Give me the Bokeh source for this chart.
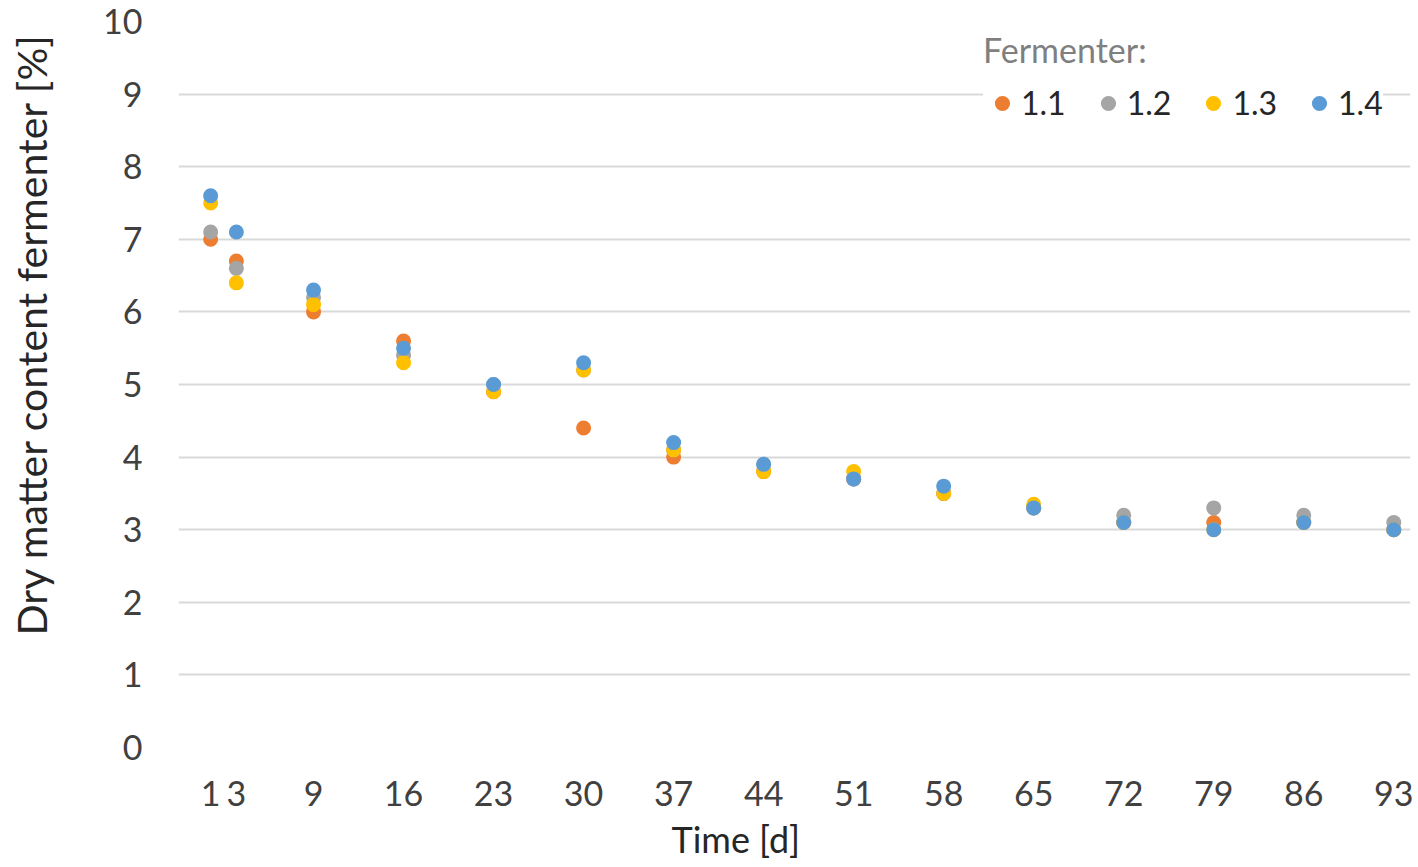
from bokeh.plotting import figure
from bokeh.models import Range1d, FixedTicker, Title
from bokeh.embed import file_html
from bokeh.resources import INLINE

days = [1, 3, 9, 16, 23, 30, 37, 44, 51, 58, 65, 72, 79, 86, 93]
f11 = [7.0, 6.7, 6.0, 5.6, 4.9, 4.4, 4.0, 3.8, 3.7, 3.5, 3.3, 3.1, 3.1, 3.1, 3.0]
f12 = [7.1, 6.6, 6.2, 5.4, 5.0, 5.2, 4.1, 3.9, 3.7, 3.5, 3.3, 3.2, 3.3, 3.2, 3.1]
f13 = [7.5, 6.4, 6.1, 5.3, 4.9, 5.2, 4.1, 3.8, 3.8, 3.5, 3.35, 3.1, 3.0, 3.1, 3.0]
f14 = [7.6, 7.1, 6.3, 5.5, 5.0, 5.3, 4.2, 3.9, 3.7, 3.6, 3.3, 3.1, 3.0, 3.1, 3.0]
series = [("1.1", f11, "#ED7D31"), ("1.2", f12, "#A5A5A5"),
          ("1.3", f13, "#FFC000"), ("1.4", f14, "#5B9BD5")]
y_ticks = list(range(0, 11))
x_title = "Time [d]"
y_title = "Dry matter content fermenter [%]"

FONT = "Lato"

p = figure(frame_width=1232, frame_height=726, output_backend="svg",
           toolbar_location=None, min_border_left=178, min_border_right=4,
           min_border_top=21, min_border_bottom=112,
           x_range=Range1d(-1.5, 94.3), y_range=Range1d(0, 10))
p.outline_line_color = None

for name, vals, col in series:
    p.scatter(days, vals, size=15, color=col, line_color=None, legend_label=name)

for ax in (p.xaxis[0], p.yaxis[0]):
    ax.axis_line_color = None
    ax.major_tick_line_color = None
    ax.minor_tick_line_color = None
    ax.major_label_text_font = FONT
    ax.major_label_text_font_size = "34px"
    ax.major_label_text_color = "#404040"

p.xaxis.ticker = FixedTicker(ticks=days)
p.yaxis.ticker = FixedTicker(ticks=y_ticks)
p.xaxis.major_label_standoff = 27
p.yaxis.major_label_standoff = 30

p.add_layout(Title(text=x_title, align="left", offset=493, standoff=12,
                   text_font=FONT, text_font_size="36px",
                   text_font_style="normal", text_color="#262626"), "below")
# spacer between the y tick labels and the y axis title
p.add_layout(Title(text=" ", standoff=27, text_font=FONT, text_font_size="10px"), "left")
p.add_layout(Title(text=y_title, align="left", offset=112, standoff=8,
                   text_font=FONT, text_font_size="41px",
                   text_font_style="normal", text_color="#262626"), "left")

p.xgrid.grid_line_color = None
p.ygrid.grid_line_color = "#d9d9d9"
p.ygrid.grid_line_width = 2

lg = p.legend[0]
lg.title = "Fermenter:"
lg.orientation = "horizontal"
lg.location = (805, 625)
lg.title_text_font = FONT
lg.title_text_font_style = "normal"
lg.title_text_font_size = "34px"
lg.title_text_color = "#7f7f7f"
lg.title_standoff = 13
lg.label_text_font = FONT
lg.label_text_font_size = "32px"
lg.label_text_color = "#262626"
lg.glyph_width = 38
lg.glyph_height = 38
lg.label_standoff = 0
lg.spacing = 23
lg.padding = 10
lg.border_line_color = None
lg.background_fill_color = "white"
lg.background_fill_alpha = 1.0

open("out.html", "w").write(file_html(p, INLINE))
